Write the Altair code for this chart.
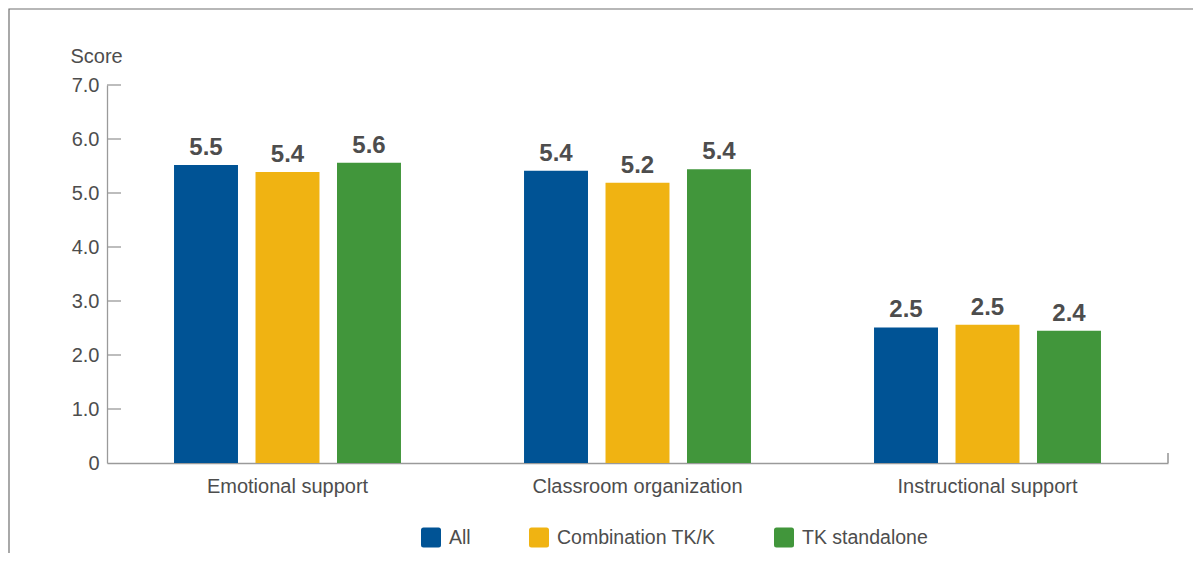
import altair as alt
import pandas as pd

categories = ["Emotional support", "Classroom organization", "Instructional support"]
series = ["All", "Combination TK/K", "TK standalone"]
colors = ["#005395", "#F0B312", "#41963B"]

all_vals = [5.52, 5.41, 2.51]
combo_vals = [5.39, 5.19, 2.56]
tk_vals = [5.56, 5.44, 2.45]

all_labels = ["5.5", "5.4", "2.5"]
combo_labels = ["5.4", "5.2", "2.5"]
tk_labels = ["5.6", "5.4", "2.4"]

y_ticks = [0, 1, 2, 3, 4, 5, 6, 7]

rows = []
for s, vals, labs in zip(series, [all_vals, combo_vals, tk_vals],
                         [all_labels, combo_labels, tk_labels]):
    for c, v, l in zip(categories, vals, labs):
        rows.append({"category": c, "series": s, "score": v, "label": l})
df = pd.DataFrame(rows)
tick_df = pd.DataFrame({"score": y_ticks[1:]})
one = pd.DataFrame({"a": [0]})

W, H = 1061, 378
FONT = "Liberation Sans"
TXT = "#4d4d4d"
AX = "#9a9a9a"

rounded = ("M -0.75 -1 L 0.75 -1 Q 1 -1 1 -0.75 L 1 0.75 Q 1 1 0.75 1 "
           "L -0.75 1 Q -1 1 -1 0.75 L -1 -0.75 Q -1 -1 -0.75 -1 Z")

x_enc = alt.X("category:N", sort=categories,
              scale=alt.Scale(paddingInner=0, paddingOuter=0.0157),
              axis=alt.Axis(title=None, labelAngle=0, ticks=False, tickSize=0,
                            labelPadding=13, labelFontSize=20, labelColor=TXT,
                            labelFont=FONT, labelLimit=500, domainColor=AX,
                            domainWidth=1.6))
xoff_enc = alt.XOffset("series:N", sort=series,
                       scale=alt.Scale(paddingInner=0.215, paddingOuter=0.755))
y_enc = alt.Y("score:Q", scale=alt.Scale(domain=[0, 7], nice=False),
              axis=alt.Axis(values=y_ticks, grid=False, ticks=False, tickSize=0,
                            labelExpr="datum.value == 0 ? '0' : format(datum.value, '.1f')",
                            labelPadding=8, labelFontSize=20, labelColor=TXT,
                            labelFont=FONT, domainColor=AX, domainWidth=1.3,
                            title="Score", titleAngle=0, titleAlign="left",
                            titleX=-37, titleY=-23, titleBaseline="alphabetic",
                            titleFontSize=20, titleFontWeight="normal",
                            titleColor=TXT, titleFont=FONT))
color_enc = alt.Color("series:N", sort=series,
                      scale=alt.Scale(domain=series, range=colors),
                      legend=alt.Legend(title=None, orient="none", legendX=314,
                                        legendY=442.5, direction="horizontal",
                                        symbolType=rounded, symbolSize=400,
                                        symbolStrokeWidth=0, symbolOpacity=1,
                                        labelFontSize=19.5, labelColor=TXT,
                                        labelFont=FONT, labelOffset=8,
                                        labelLimit=500, columnPadding=58,
                                        padding=0))

bars = alt.Chart(df).mark_bar().encode(
    x=x_enc, xOffset=xoff_enc, y=y_enc, color=color_enc)

texts = alt.Chart(df).mark_text(
    dy=-10, baseline="alphabetic", fontSize=24, fontWeight="bold",
    font=FONT, color=TXT).encode(
    x=alt.X("category:N", sort=categories),
    xOffset=alt.XOffset("series:N", sort=series),
    y=alt.Y("score:Q"), text="label:N")

yticks = alt.Chart(tick_df).mark_rule(color=AX, strokeWidth=1.3).encode(
    y=alt.Y("score:Q"), x=alt.value(0), x2=alt.value(14))

end_tick = alt.Chart(one).mark_rule(color=AX, strokeWidth=1.6).encode(
    x=alt.value(W), y=alt.value(H - 10), y2=alt.value(H))

frame = alt.Chart(one).mark_rect(filled=False, stroke="#707070", strokeWidth=1.2,
                                 clip=False).encode(
    x=alt.value(-98), x2=alt.value(1300), y=alt.value(-76), y2=alt.value(700))

chart = alt.layer(frame, bars, texts, yticks, end_tick).properties(
    width=W, height=H,
    autosize=alt.AutoSizeParams(type="none"),
    padding={"left": 99, "top": 77, "right": 25, "bottom": 90},
).configure(font=FONT, background="white",
            view=alt.ViewConfig(stroke="transparent"))

chart.save("out.html", embed_options={"renderer": "svg", "actions": False})
